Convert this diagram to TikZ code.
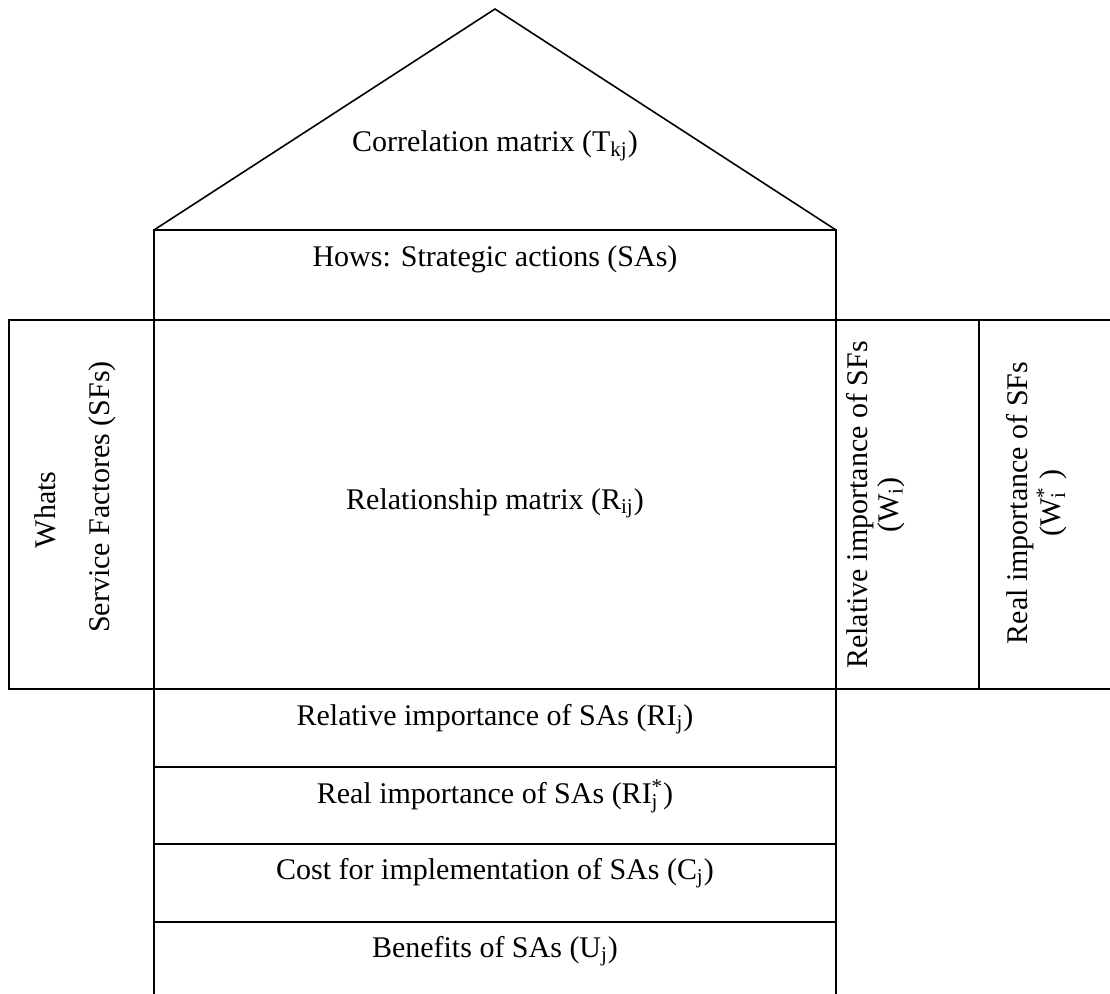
\documentclass[tikz,border=0pt]{standalone}
\usepackage{fontspec}
\setmainfont{Liberation Serif}
\newcommand{\subsup}[2]{\rlap{\textsubscript{#1}}\textsuperscript{#2}}
\begin{document}
\begin{tikzpicture}[x=0.5pt,y=-0.5pt,line width=1pt,
  lbl/.style={font=\fontsize{15}{18}\selectfont,inner sep=0pt},
  vlbl/.style={lbl,rotate=90},
  roofline/.style={line width=0.8pt}]
\useasboundingbox (0,0) rectangle (1110,994);
% roof
\coordinate (apex) at (495,9);
\coordinate (rl) at (154,230);
\coordinate (rr) at (836,230);
\draw[roofline] (rl) -- (apex) -- (rr);
% main verticals
\coordinate (cl) at (154,994);
\coordinate (cr) at (836,994);
\draw (cl) -- (rl) -- (rr) -- (cr);
% middle band
\coordinate (ml) at (9,320);
\coordinate (mr) at (1110,320);
\coordinate (bl) at (9,689);
\coordinate (br) at (1110,689);
\draw (mr) -- (ml) -- (bl) -- (br);
\coordinate (dt) at (979,320);
\coordinate (db) at (979,689);
\draw (dt) -- (db);
% bottom rows
\coordinate (r1l) at (154,767); \coordinate (r1r) at (836,767);
\coordinate (r2l) at (154,844); \coordinate (r2r) at (836,844);
\coordinate (r3l) at (154,922); \coordinate (r3r) at (836,922);
\draw (r1l) -- (r1r);
\draw (r2l) -- (r2r);
\draw (r3l) -- (r3r);
% labels
\node[lbl] (corr) at (495,146) {Correlation matrix (T\textsubscript{kj})};
\node[lbl] (hows) at (495,259) {Hows: Strategic actions (SAs)};
\node[lbl] (rel) at (495,503) {Relationship matrix (R\textsubscript{ij})};
\node[vlbl] (whats) at (45,510) {Whats};
\node[vlbl] (sfs) at (102,497) {Service Factores (SFs)};
\node[vlbl] (relsf) at (860,505) {Relative importance of SFs};
\node[vlbl] (wi) at (891,505) {(W\textsubscript{i})};
\node[vlbl] (realsf) at (1020,503) {Real importance of SFs};
\node[vlbl] (wis) at (1052,503) {(W\subsup{i}{*} )};
\node[lbl] (ri) at (495,719) {Relative importance of SAs (RI\textsubscript{j})};
\node[lbl] (ris) at (495,796) {Real importance of SAs (RI\subsup{j}{*})};
\node[lbl] (cj) at (495,873) {Cost for implementation of SAs (C\textsubscript{j})};
\node[lbl] (uj) at (495,951) {Benefits of SAs (U\textsubscript{j})};
\end{tikzpicture}
\end{document}
